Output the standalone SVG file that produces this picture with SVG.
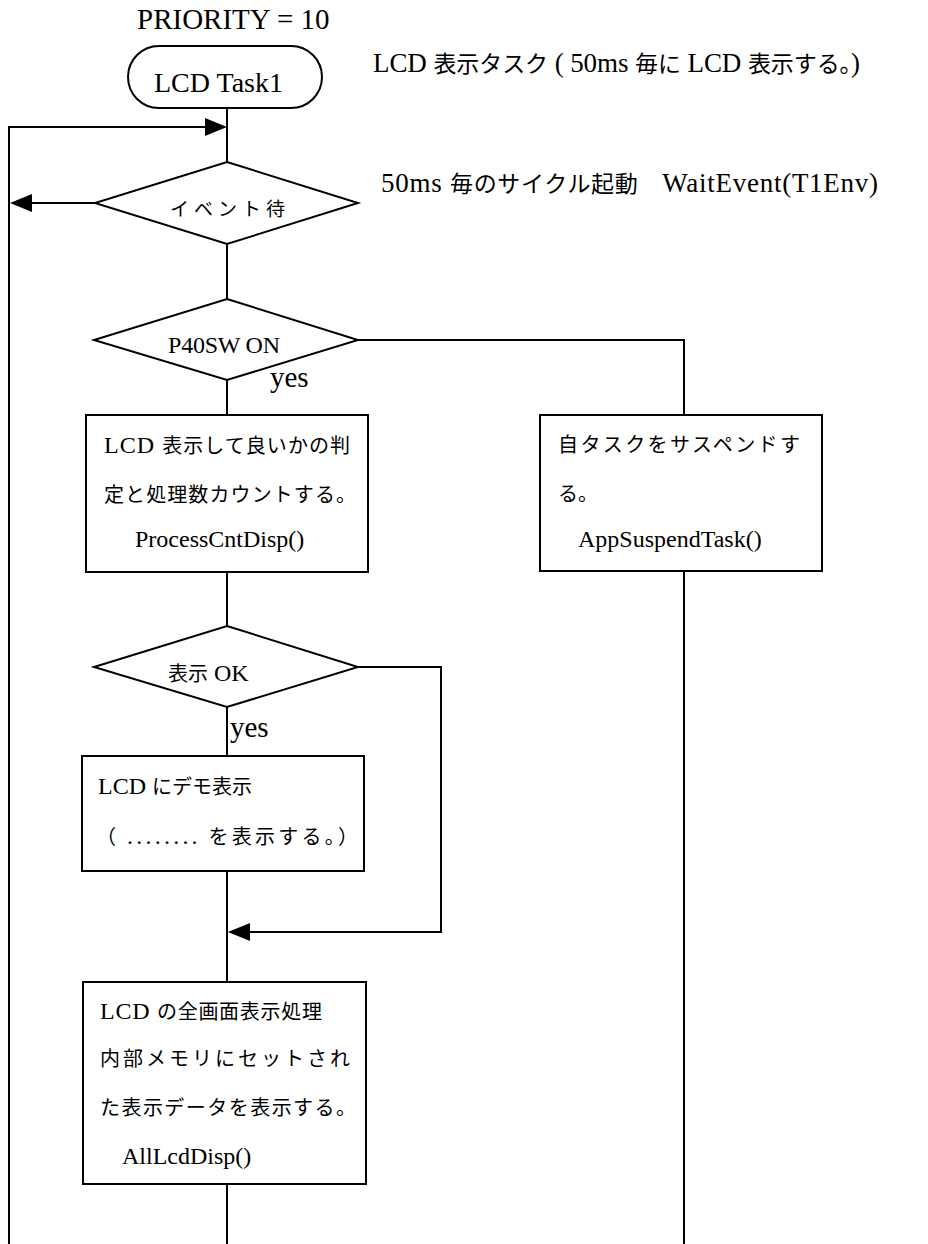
<svg xmlns="http://www.w3.org/2000/svg" width="928" height="1244" viewBox="0 0 928 1244">
<style>
.bg{fill:#fff}
.shape{fill:#fff;stroke:#000;stroke-width:2}
.ln{fill:none;stroke:#000;stroke-width:2}
.ah{fill:#000;stroke:none}
text{font-family:"Liberation Serif","Noto Sans CJK JP",serif;fill:#000}
.s24{font-size:24px}
.s27{font-size:27px}
.s28{font-size:28px}
.s29{font-size:29px}
.yes{font-size:29px}
.j{font-family:"Noto Sans CJK JP","Liberation Sans",sans-serif;font-size:20px}
.jb{font-family:"Noto Sans CJK JP","Liberation Sans",sans-serif;font-size:23px}
.js{font-family:"Noto Sans CJK JP","Liberation Sans",sans-serif;font-size:19px}
</style>
<rect class="bg" x="0" y="0" width="928" height="1244"/>

<g id="connectors">
  <polyline class="ln" points="227,108 227,162"/>
  <polyline class="ln" points="9,1244 9,127 206,127"/>
  <polygon class="ah" points="227,127 205,118 205,136"/>
  <polyline class="ln" points="95,203 30,203"/>
  <polygon class="ah" points="10,203 32,194 32,212"/>
  <polyline class="ln" points="227,244 227,299"/>
  <polyline class="ln" points="358,340 684,340 684,415"/>
  <polyline class="ln" points="227,380 227,415"/>
  <polyline class="ln" points="684,571 684,1244"/>
  <polyline class="ln" points="227,572 227,626"/>
  <polyline class="ln" points="358,667 441,667 441,932 248,932"/>
  <polygon class="ah" points="228,932 250,923 250,941"/>
  <polyline class="ln" points="227,707 227,756"/>
  <polyline class="ln" points="227,871 227,982"/>
  <polyline class="ln" points="227,1184 227,1244"/>
</g>

<g id="label-priority">
  <text class="s29" x="137" y="29">PRIORITY = 10</text>
</g>

<g id="node-start">
  <rect class="shape" x="128" y="46" width="194" height="62" rx="31" ry="31"/>
  <text class="s28" x="154" y="92">LCD Task1</text>
</g>

<g id="label-task">
  <text class="s27" x="373" y="72" textLength="487">LCD <tspan class="jb">表示タスク</tspan> ( 50ms <tspan class="jb">毎に</tspan> LCD <tspan class="jb">表示する。</tspan>)</text>
</g>

<g id="label-cycle">
  <text class="s27" x="381" y="192" textLength="497">50ms <tspan class="jb">毎のサイクル起動　</tspan>WaitEvent(T1Env)</text>
</g>

<g id="node-wait">
  <polygon class="shape" points="227,162 358,203 227,244 95,203"/>
  <text class="js" x="170" y="216" textLength="115">イベント待</text>
</g>

<g id="node-p40sw">
  <polygon class="shape" points="227,299 358,340 227,380 94,340"/>
  <text class="s24" x="168" y="353" textLength="112">P40SW ON</text>
  <text class="yes" x="270" y="387">yes</text>
</g>

<g id="node-judge">
  <rect class="shape" x="86" y="415" width="282" height="157"/>
  <text class="s24" x="104" y="453" textLength="246">LCD <tspan class="j">表示して良いかの判</tspan></text>
  <text class="j" x="104" y="502" textLength="252">定と処理数カウントする。</text>
  <text class="s24" x="135" y="547">ProcessCntDisp()</text>
</g>

<g id="node-suspend">
  <rect class="shape" x="540" y="415" width="282" height="156"/>
  <text class="j" x="558" y="452" textLength="242">自タスクをサスペンドす</text>
  <text class="j" x="558" y="501">る。</text>
  <text class="s24" x="578" y="547">AppSuspendTask()</text>
</g>

<g id="node-dispok">
  <polygon class="shape" points="227,626 358,667 227,707 94,667"/>
  <text class="s24" x="168" y="681"><tspan class="j">表示</tspan> OK</text>
  <text class="yes" x="230" y="737">yes</text>
</g>

<g id="node-demo">
  <rect class="shape" x="82" y="756" width="282" height="115"/>
  <text class="s24" x="98" y="794">LCD <tspan class="j">にデモ表示</tspan></text>
  <text class="j" x="96" y="844" textLength="262">（ <tspan class="s24" font-family="Liberation Serif">........</tspan> <tspan class="j">を表示する。）</tspan></text>
</g>

<g id="node-alldisp">
  <rect class="shape" x="83" y="982" width="283" height="202"/>
  <text class="s24" x="100" y="1019" textLength="222">LCD <tspan class="j">の全画面表示処理</tspan></text>
  <text class="j" x="100" y="1066" textLength="250">内部メモリにセットされ</text>
  <text class="j" x="100" y="1115" textLength="256">た表示データを表示する。</text>
  <text class="s24" x="122" y="1164">AllLcdDisp()</text>
</g>
</svg>
